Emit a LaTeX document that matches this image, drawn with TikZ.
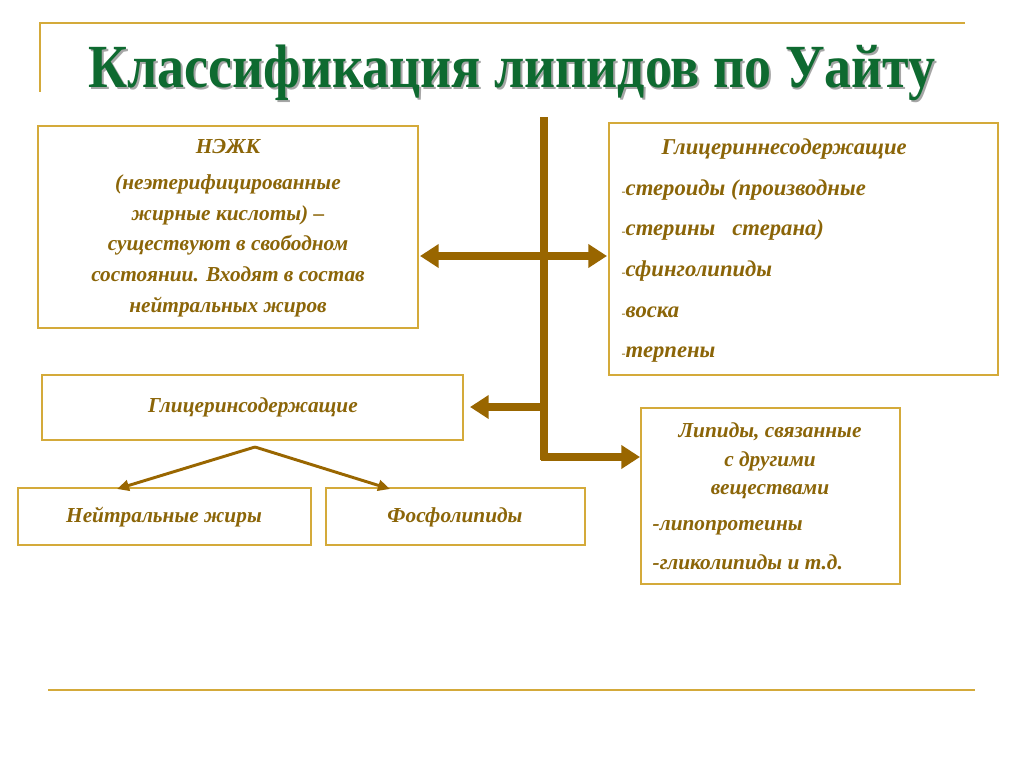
\documentclass[tikz,border=0pt]{standalone}
\usepackage{fontspec}
\setmainfont{Liberation Serif}
\usetikzlibrary{arrows.meta}
\definecolor{gold}{HTML}{D4AA3A}
\definecolor{brn}{HTML}{8B6508}
\definecolor{arr}{HTML}{996600}
\definecolor{ttl}{HTML}{0E6A30}
\tikzset{
  bx/.style={draw=gold,line width=1.2pt,inner sep=0pt},
  tx/.style={text=brn,font=\fontsize{15}{22}\selectfont\bfseries\itshape,align=center},
  fat/.style={draw=arr,line width=5.5pt,-{Triangle[width=17pt,length=14pt]}},
  thin/.style={draw=arr,line width=2.2pt,-{Triangle[width=8pt,length=9pt]}}
}
\begin{document}
\begin{tikzpicture}[x=0.75pt,y=-0.75pt]
\useasboundingbox (0,0) rectangle (1024,767);
\fill[white] (0,0) rectangle (1024,767);
% frame lines
\draw[gold,line width=1.5pt] (40,92) -- (40,23) -- (965,23);
\draw[gold,line width=1.5pt] (48,690) -- (975,690);
% title
\node (title) [text=ttl,font=\fontsize{46}{48}\selectfont\bfseries] at (512,74) {\scalebox{0.88}[1]{\rlap{\kern1.5pt\raisebox{-1.5pt}{\textcolor{black!35}{Классификация липидов по Уайту}}}Классификация липидов по Уайту}};
% boxes
\draw[bx] (38,126) rectangle (418,328);
\node (nezk) [tx,font=\fontsize{16}{23}\selectfont\bfseries\itshape] at (228,228) {НЭЖК\\[4pt](неэтерифицированные\\жирные кислоты) –\\существуют в свободном\\состоянии. Входят в состав\\нейтральных жиров};
\coordinate (nezkR) at (420,256);
\draw[bx] (609,123) rectangle (998,375);
\node (gns) [tx,font=\fontsize{17}{30.5}\selectfont\bfseries\itshape,align=left,anchor=north west] at (617,134) {\hspace*{30pt}Глицериннесодержащие\\{\normalfont\small -}стероиды (производные\\{\normalfont\small -}стерины\ \ \ стерана)\\{\normalfont\small -}сфинголипиды\\{\normalfont\small -}воска\\{\normalfont\small -}терпены};
\coordinate (gnsL) at (607,256);
\draw[bx] (42,375) rectangle (463,440);
\node (gs) [tx,font=\fontsize{16}{20}\selectfont\bfseries\itshape] at (253,407) {Глицеринсодержащие};
\coordinate (gsR) at (470,407);
\draw[bx] (18,488) rectangle (311,545);
\node (nj) [tx,font=\fontsize{16}{20}\selectfont\bfseries\itshape] at (164,517) {Нейтральные жиры};
\draw[bx] (326,488) rectangle (585,545);
\node (fl) [tx,font=\fontsize{16}{20}\selectfont\bfseries\itshape] at (455,517) {Фосфолипиды};
\draw[bx] (641,408) rectangle (900,584);
\node (lb) [tx,font=\fontsize{16}{21.5}\selectfont\bfseries\itshape] at (770,461) {Липиды, связанные\\с другими\\веществами};
\node (lb2) [tx,font=\fontsize{16}{22}\selectfont\bfseries\itshape,align=left,anchor=north west] at (648,516) {-липопротеины\\[7pt]-гликолипиды и т.д.};
\coordinate (lbL) at (640,457);
% connectors
\coordinate (top) at (544,117);
\coordinate (br) at (544,407);
\draw[draw=arr,line width=5.5pt] (top) -- (544,460);
\draw[fat,{Triangle[width=17pt,length=14pt]}-{Triangle[width=17pt,length=14pt]}] (nezkR) -- (gnsL);
\draw[fat] (br) -- (gsR);
\draw[fat] (541,457) -- (lbL);
\coordinate (split) at (255,447);
\draw[thin] (split) -- (117,489);
\draw[thin] (split) -- (390,489);
\end{tikzpicture}
\end{document}
